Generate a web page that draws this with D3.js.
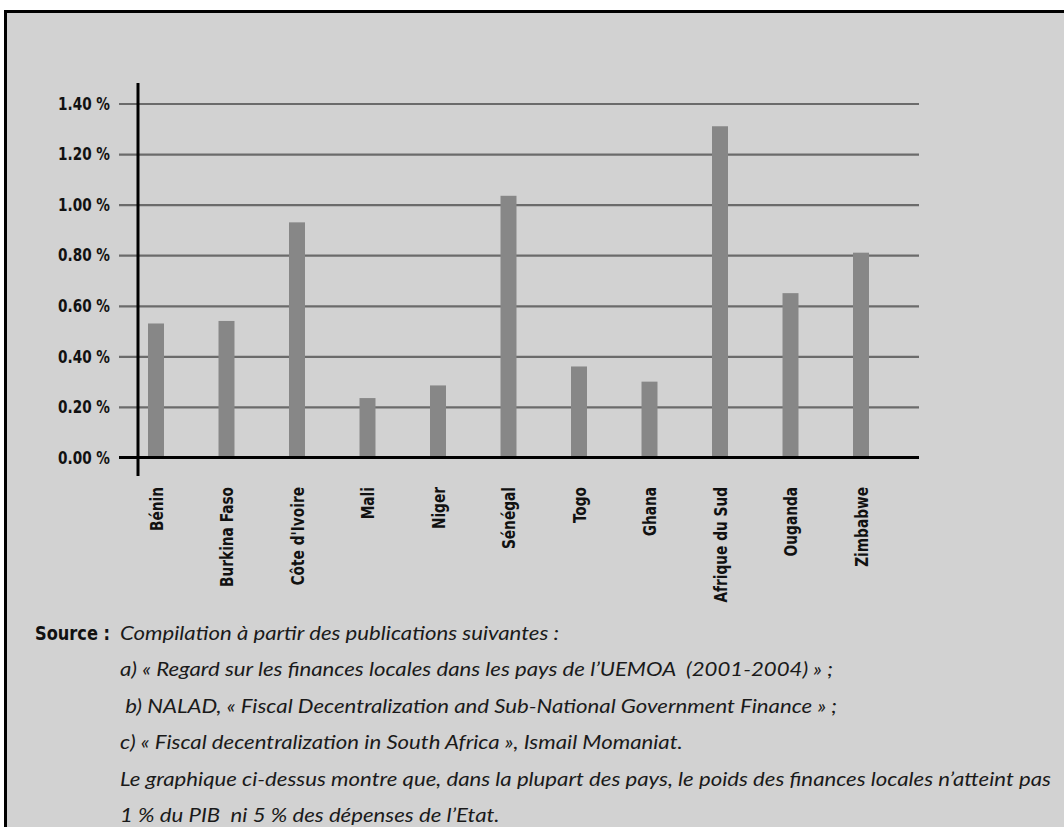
<!DOCTYPE html>
<html>
<head>
<meta charset="utf-8">
<script src="https://cdn.jsdelivr.net/npm/d3@7"></script>
<style>
  body { margin: 0; background: #fff; }
  .bold { font-family: "DejaVu Sans Condensed", "Liberation Sans Narrow", "DejaVu Sans", sans-serif; font-stretch: condensed; font-weight: bold; fill: #111; }
  .note { font-family: Lato, "Open Sans", sans-serif; font-style: italic; fill: #1a1a1a; white-space: pre; }
</style>
</head>
<body>
<svg id="chart" width="1064" height="827"></svg>
<script>
// Local government finances as a share of GDP, by country
const countries = ["Bénin", "Burkina Faso", "Côte d'Ivoire", "Mali", "Niger", "Sénégal", "Togo", "Ghana", "Afrique du Sud", "Ouganda", "Zimbabwe"];
const shareOfGdp = [0.53, 0.54, 0.93, 0.235, 0.285, 1.035, 0.36, 0.30, 1.31, 0.65, 0.81];
const yTicks = [0, 0.2, 0.4, 0.6, 0.8, 1.0, 1.2, 1.4];
const sourceLabel = "Source :";
const sourceLines = [
  "Compilation à partir des publications suivantes :",
  "a) « Regard sur les finances locales dans les pays de l’UEMOA  (2001-2004) » ;",
  " b) NALAD, « Fiscal Decentralization and Sub-National Government Finance » ;",
  "c) « Fiscal decentralization in South Africa », Ismail Momaniat.",
  "Le graphique ci-dessus montre que, dans la plupart des pays, le poids des finances locales n’atteint pas",
  "1 % du PIB  ni 5 % des dépenses de l’Etat."
];

const svg = d3.select("#chart");

// Panel background with its black frame
svg.append("rect")
  .attr("x", 5.5).attr("y", 11.5)
  .attr("width", 1200).attr("height", 900)
  .attr("fill", "#d2d2d2")
  .attr("stroke", "#000").attr("stroke-width", 3);

const plot = { left: 119, right: 919, axisX: 138, zeroY: 457.5, topY: 103.5 };

const y = d3.scaleLinear().domain([0, 1.4]).range([plot.zeroY, plot.topY]);
const x = d3.scaleBand()
  .domain(countries)
  .range([120.75, 896.25])
  .paddingInner(0.773)
  .paddingOuter(0.3865);

// Gridlines and value labels
const yAxis = d3.axisLeft(y)
  .tickValues(yTicks)
  .tickSize(plot.right - plot.left)
  .tickPadding(9)
  .tickFormat(d => d3.format(".2f")(d) + " %");

const gy = svg.append("g")
  .attr("transform", `translate(${plot.right},0)`)
  .call(yAxis);
gy.select(".domain").remove();
gy.selectAll(".tick line").attr("stroke", "#6b6b6b").attr("stroke-width", 2.2);
gy.selectAll(".tick text")
  .attr("class", "bold")
  .attr("font-size", 17)
  .attr("dy", "0.34em");

// Squeeze text runs to a common condensed width
function condense(sel, refText, targetWidth) {
  const probe = svg.append("text").attr("class", sel.attr("class")).attr("font-size", sel.attr("font-size")).text(refText);
  const k = targetWidth / probe.node().getComputedTextLength();
  probe.remove();
  sel.each(function () {
    const w = this.getComputedTextLength();
    d3.select(this).attr("textLength", w * k).attr("lengthAdjust", "spacingAndGlyphs");
  });
}
condense(gy.selectAll(".tick text"), "1.40 %", 52);

// Bars
svg.append("g")
  .selectAll("rect")
  .data(countries.map((c, i) => ({ c, v: shareOfGdp[i] })))
  .join("rect")
  .attr("x", d => x(d.c))
  .attr("y", d => y(d.v))
  .attr("width", x.bandwidth())
  .attr("height", d => y(0) - y(d.v))
  .attr("fill", "#878787");

// Baseline and vertical axis
svg.append("line")
  .attr("x1", plot.left).attr("x2", plot.right)
  .attr("y1", y(0)).attr("y2", y(0))
  .attr("stroke", "#000").attr("stroke-width", 3.2);
svg.append("line")
  .attr("x1", plot.axisX).attr("x2", plot.axisX)
  .attr("y1", 83).attr("y2", 476)
  .attr("stroke", "#000").attr("stroke-width", 3);

// Country labels, rotated
const cats = svg.append("g")
  .selectAll("text")
  .data(countries)
  .join("text")
  .attr("class", "bold")
  .attr("font-size", 17)
  .attr("text-anchor", "end")
  .attr("transform", d => `translate(${x(d) + x.bandwidth() / 2 + 6.5},487) rotate(-90)`)
  .text(d => d);
condense(cats, "Burkina Faso", 100);

// Source notes
const src = svg.append("text")
  .attr("class", "bold")
  .attr("font-size", 19)
  .attr("x", 35).attr("y", 640)
  .text(sourceLabel);
condense(src, sourceLabel, 75);

const notes = svg.append("g")
  .selectAll("text")
  .data(sourceLines)
  .join("text")
  .attr("class", "note")
  .attr("font-size", 20)
  .attr("x", 120)
  .attr("y", (d, i) => 640 + i * 36.4)
  .text(d => d);
condense(notes, sourceLines[4], 931);
</script>
</body>
</html>
